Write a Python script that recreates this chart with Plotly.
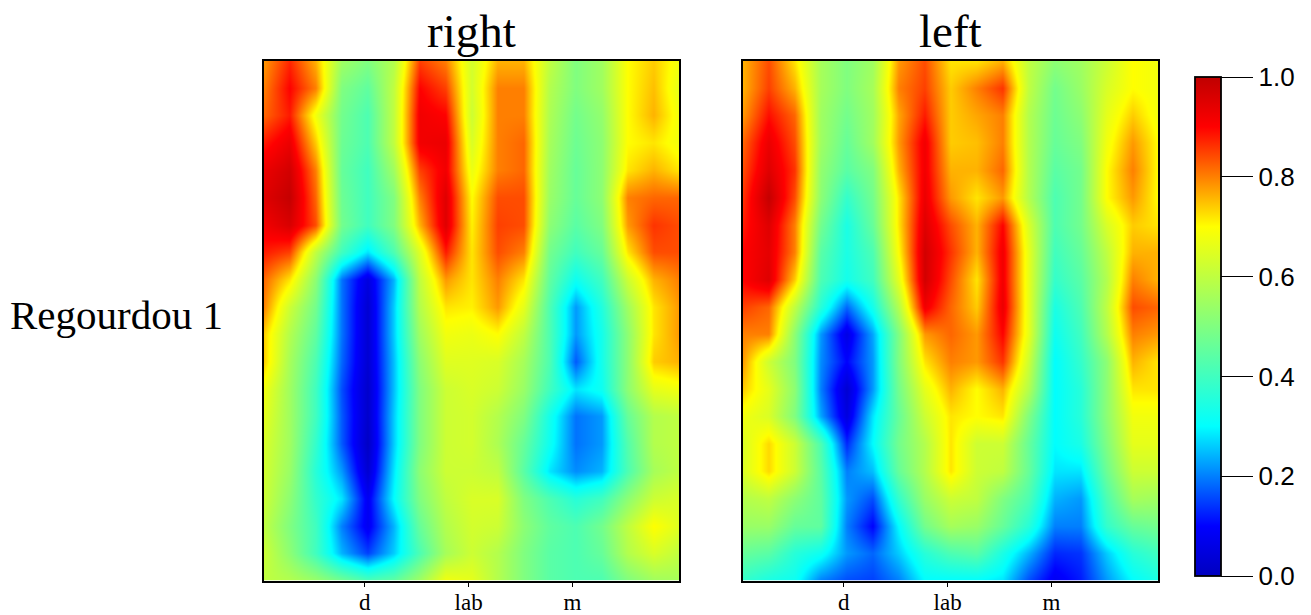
import plotly.graph_objects as go

categories = ["d", "lab", "m"]
panel_titles = ["right", "left"]
row_label = "Regourdou 1"
category_positions = [3.9, 7.9, 11.9]

right_values = [
[.78,.87,.76,.55,.50,.58,.85,.80,.63,.76,.76,.60,.50,.55,.70,.74,.68],
[.80,.90,.80,.50,.45,.60,.90,.85,.63,.80,.80,.58,.50,.55,.70,.75,.66],
[.82,.88,.68,.48,.42,.60,.92,.90,.62,.80,.80,.57,.48,.53,.70,.76,.68],
[.88,.93,.74,.47,.42,.60,.92,.93,.64,.80,.82,.56,.47,.52,.70,.72,.68],
[.93,.97,.80,.46,.40,.55,.85,.92,.67,.80,.82,.55,.46,.52,.72,.76,.72],
[.95,.99,.82,.47,.40,.50,.80,.95,.70,.84,.84,.54,.46,.52,.80,.82,.82],
[.92,.96,.84,.48,.40,.50,.76,.95,.71,.85,.84,.52,.44,.50,.78,.86,.84],
[.88,.85,.60,.40,.28,.42,.65,.88,.72,.84,.80,.48,.40,.46,.72,.84,.84],
[.82,.72,.52,.19,.05,.24,.60,.78,.72,.80,.72,.45,.32,.40,.62,.76,.80],
[.80,.62,.48,.19,.03,.26,.58,.72,.71,.78,.66,.42,.22,.35,.55,.72,.78],
[.74,.58,.45,.19,.03,.26,.55,.68,.67,.70,.60,.42,.22,.33,.52,.72,.78],
[.74,.56,.42,.18,.03,.25,.52,.65,.65,.64,.56,.42,.17,.33,.52,.74,.76],
[.68,.55,.40,.16,.02,.25,.50,.62,.64,.62,.54,.40,.28,.32,.52,.66,.68],
[.66,.55,.40,.17,.02,.26,.50,.62,.63,.58,.50,.33,.19,.22,.46,.58,.60],
[.64,.55,.38,.17,.01,.26,.50,.62,.63,.57,.46,.32,.19,.22,.43,.58,.60],
[.63,.54,.36,.22,.03,.28,.52,.62,.62,.60,.44,.28,.21,.24,.42,.56,.60],
[.62,.52,.38,.28,.08,.30,.50,.60,.64,.64,.50,.42,.36,.40,.52,.62,.64],
[.60,.50,.40,.20,.08,.24,.46,.58,.63,.62,.52,.45,.42,.48,.60,.70,.65],
[.62,.52,.40,.24,.15,.26,.42,.56,.62,.58,.50,.44,.42,.46,.58,.64,.60],
[.60,.58,.54,.48,.42,.45,.55,.68,.66,.58,.50,.44,.42,.42,.50,.55,.56],
]

left_values = [
[.76,.84,.72,.56,.50,.55,.78,.84,.72,.72,.76,.60,.52,.55,.62,.70,.68],
[.76,.85,.76,.56,.50,.56,.80,.85,.74,.80,.86,.60,.48,.54,.64,.70,.68],
[.78,.89,.82,.55,.48,.55,.77,.88,.74,.77,.80,.58,.47,.52,.66,.74,.68],
[.82,.93,.84,.55,.46,.55,.78,.92,.74,.75,.80,.58,.46,.50,.68,.78,.70],
[.84,.95,.86,.53,.44,.50,.76,.92,.76,.76,.82,.58,.44,.48,.70,.80,.70],
[.86,.99,.84,.52,.38,.48,.72,.93,.78,.72,.78,.58,.42,.48,.70,.78,.70],
[.88,.95,.80,.48,.34,.46,.72,.95,.84,.76,.90,.64,.42,.48,.64,.74,.72],
[.90,.94,.80,.44,.34,.42,.70,.97,.86,.76,.92,.66,.40,.46,.60,.76,.76],
[.90,.95,.74,.42,.33,.40,.66,.97,.84,.72,.92,.66,.38,.44,.58,.80,.76],
[.85,.82,.60,.36,.18,.33,.58,.92,.82,.74,.93,.66,.34,.42,.60,.84,.82],
[.80,.80,.52,.22,.06,.23,.50,.78,.82,.78,.90,.66,.32,.40,.58,.80,.78],
[.78,.62,.50,.21,.10,.22,.50,.72,.80,.78,.86,.62,.30,.38,.52,.76,.72],
[.74,.66,.52,.20,.03,.22,.48,.66,.76,.70,.76,.58,.30,.36,.52,.72,.72],
[.68,.64,.50,.23,.05,.28,.46,.62,.72,.70,.72,.50,.30,.36,.52,.68,.68],
[.64,.73,.62,.42,.13,.30,.48,.58,.72,.62,.62,.46,.30,.34,.50,.66,.66],
[.64,.73,.62,.44,.20,.25,.46,.58,.72,.62,.60,.46,.28,.28,.47,.62,.62],
[.58,.60,.52,.45,.22,.16,.38,.54,.62,.60,.50,.42,.24,.22,.42,.56,.55],
[.54,.54,.46,.45,.20,.10,.30,.48,.56,.54,.46,.36,.20,.20,.38,.46,.48],
[.46,.44,.36,.32,.22,.18,.26,.36,.42,.44,.34,.24,.13,.14,.26,.36,.40],
[.38,.34,.32,.20,.16,.15,.20,.30,.30,.30,.28,.16,.08,.12,.22,.30,.34],
]

W, H = 1311, 615
jet = [[0.0, "#0000BF"], [0.1, "#0000FF"], [0.3, "#00FFFF"], [0.5, "#80FF80"],
       [0.7, "#FFFF00"], [0.9, "#FF0000"], [1.0, "#BF0000"]]
SERIF = "Liberation Serif"
SANS = "Liberation Sans"

fig = go.Figure()
fig.add_trace(go.Heatmap(z=right_values, coloraxis="coloraxis", zsmooth="best", xaxis="x", yaxis="y", hoverinfo="skip"))
fig.add_trace(go.Heatmap(z=left_values, coloraxis="coloraxis", zsmooth="best", xaxis="x2", yaxis="y2", hoverinfo="skip"))

def xaxis(x0, x1):
    return dict(domain=[x0 / W, x1 / W], range=[0, 16], tickmode="array", tickvals=category_positions,
                ticktext=categories, ticks="outside", ticklen=5, tickwidth=1.2, tickcolor="black",
                ticklabelstandoff=-5,
                tickfont=dict(family=SERIF, size=23, color="black"), showgrid=False, zeroline=False,
                showline=True, linecolor="black", linewidth=1.8, mirror=True)

def yaxis(anchor):
    return dict(domain=[1 - 580.5 / H, 1 - 60.5 / H], range=[19, 0], showticklabels=False, ticks="",
                showgrid=False, zeroline=False, showline=True, linecolor="black", linewidth=1.8,
                mirror=True, anchor=anchor)

fig.update_layout(
    width=W, height=H, paper_bgcolor="white", plot_bgcolor="white",
    margin=dict(l=0, r=0, t=0, b=0, autoexpand=False),
    xaxis=xaxis(263.5, 679), yaxis=yaxis("x"),
    xaxis2=dict(xaxis(742.5, 1158), anchor="y2"), yaxis2=yaxis("x2"),
    coloraxis=dict(
        cmin=0, cmax=1, colorscale=jet,
        colorbar=dict(
            x=1195 / W, xanchor="left", xpad=0, ypad=0, y=1 - 576 / H, yanchor="bottom",
            len=499 / H, lenmode="fraction", thickness=26, thicknessmode="pixels",
            outlinecolor="black", outlinewidth=1.8, tick0=0, dtick=0.2, tickformat=".1f",
            ticks="outside", ticklen=32, tickwidth=1.3, tickcolor="black",
            tickfont=dict(family=SANS, size=26, color="black"),
        ),
    ),
    annotations=[
        dict(text=panel_titles[0], x=471 / W, y=1 - 31 / H, xref="paper", yref="paper", showarrow=False,
             xanchor="center", yanchor="middle", font=dict(family=SERIF, size=47, color="black")),
        dict(text=panel_titles[1], x=950 / W, y=1 - 31 / H, xref="paper", yref="paper", showarrow=False,
             xanchor="center", yanchor="middle", font=dict(family=SERIF, size=47, color="black")),
        dict(text=row_label, x=116.5 / W, y=1 - 315 / H, xref="paper", yref="paper", showarrow=False,
             xanchor="center", yanchor="middle", font=dict(family=SERIF, size=41, color="black")),
    ],
)

fig.write_html("out.html", config={"displayModeBar": False},
               post_script="document.body.style.margin='0';")
